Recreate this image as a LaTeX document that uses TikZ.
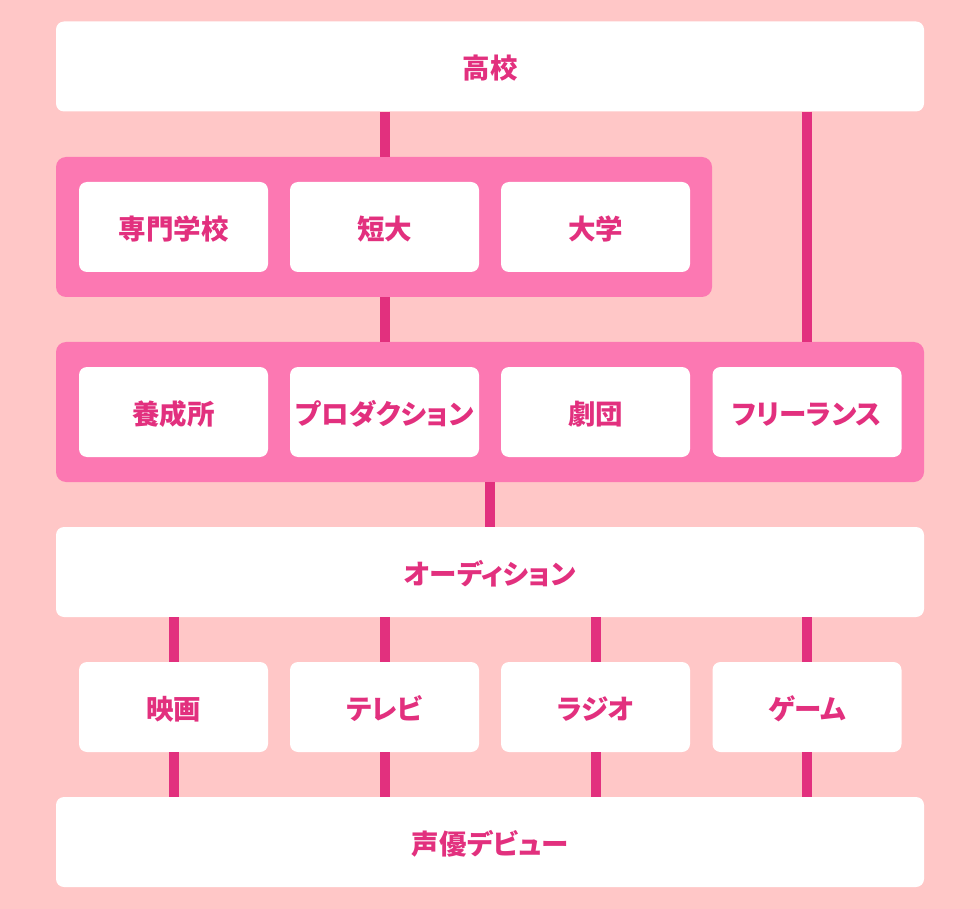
\documentclass[tikz,border=0pt]{standalone}
\usepackage{fontspec}
\newfontfamily\jp{Noto Sans CJK JP}[RawFeature=+palt]
\definecolor{bgpink}{RGB}{255,199,199}
\definecolor{grppink}{RGB}{252,120,178}
\definecolor{deeppink}{RGB}{226,48,126}
\begin{document}
\begin{tikzpicture}[x=1pt,y=-1pt,
    box/.style={fill=white,rounded corners=8pt,minimum width=189pt,minimum height=90pt,inner sep=0pt,
      text height=28pt,text depth=3.3pt,text=deeppink,font=\jp\bfseries\fontsize{27.5}{27.5}\selectfont},
    wide/.style={box,minimum width=868pt},
    grp/.style={fill=grppink,rounded corners=10pt,minimum height=140pt,inner sep=0pt},
    link/.style={draw=deeppink,line width=10pt}]
  \fill[bgpink] (0,0) rectangle (980,909);
  % schools
  \node[wide] (koko) at (490,66.5) {高校};
  \node[grp,minimum width=656pt] (grpa) at (384,227) {};
  \node[box] (senmon) at (173.5,227) {専門学校};
  \node[box] (tandai) at (384.5,227) {短大};
  \node[box] (daigaku) at (595.5,227) {大学};
  % training
  \node[grp,minimum width=868pt] (grpb) at (490,412) {};
  \node[box] (yosei) at (173.5,412) {養成所};
  \node[box] (pro) at (384.5,412) {プロダクション};
  \node[box] (gekidan) at (595.5,412) {劇団};
  \node[box] (free) at (807,412) {フリーランス};
  % audition and media
  \node[wide] (audi) at (490,572) {オーディション};
  \node[box] (eiga) at (173.5,707) {映画};
  \node[box] (terebi) at (384.5,707) {テレビ};
  \node[box] (rajio) at (595.5,707) {ラジオ};
  \node[box] (gemu) at (807,707) {ゲーム};
  \node[wide] (debut) at (490,842) {声優デビュー};
  % connectors
  \draw[link] (koko.south -| tandai) -- (grpa.north -| tandai);
  \draw[link] (koko.south -| free) -- (grpb.north -| free);
  \draw[link] (grpa.south -| tandai) -- (grpb.north -| tandai);
  \draw[link] (grpb.south) -- (audi.north);
  \foreach \m in {eiga,terebi,rajio,gemu} {
    \draw[link] (audi.south -| \m) -- (\m.north);
    \draw[link] (\m.south) -- (debut.north -| \m);
  }
\end{tikzpicture}
\end{document}
